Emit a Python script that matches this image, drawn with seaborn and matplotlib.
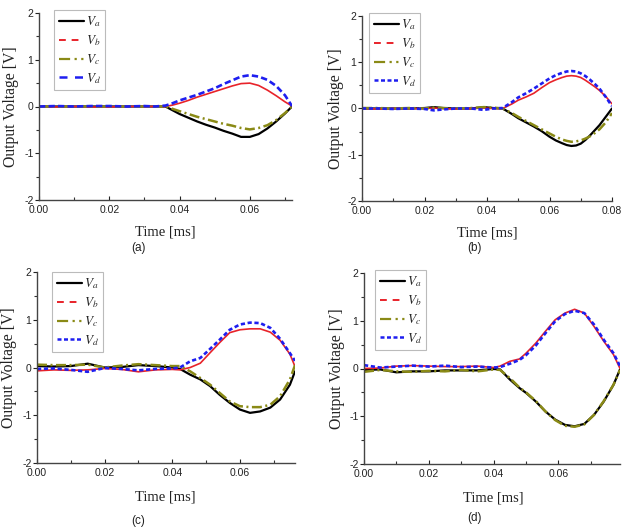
import numpy as np
import pandas as pd
import matplotlib
matplotlib.use("Agg")
import matplotlib.pyplot as plt
from matplotlib.lines import Line2D
from matplotlib.ticker import MultipleLocator, FormatStrFormatter
import seaborn as sns

# ---------------- data ----------------
t_a = [0, 0.005, 0.01, 0.015, 0.02, 0.025, 0.03, 0.033, 0.036, 0.038, 0.04, 0.0425, 0.045, 0.0475, 0.05, 0.0525, 0.055, 0.0575, 0.06, 0.0625, 0.065, 0.0675, 0.07, 0.072]
va_a = [0, 0, 0, 0, 0, 0, 0, 0, 0, -0.08, -0.16, -0.24, -0.32, -0.39, -0.45, -0.52, -0.58, -0.65, -0.65, -0.59, -0.47, -0.32, -0.15, 0.0]
vb_a = [0, -0.01, 0, -0.01, -0.01, 0, 0, 0, 0.0, 0.03, 0.07, 0.13, 0.2, 0.26, 0.32, 0.38, 0.44, 0.49, 0.5, 0.45, 0.35, 0.23, 0.1, 0.01]
vc_a = [0, 0, 0, 0, 0, 0, 0, 0, 0, -0.05, -0.1, -0.16, -0.22, -0.27, -0.32, -0.37, -0.41, -0.46, -0.49, -0.46, -0.4, -0.29, -0.14, 0.0]
vd_a = [0, 0.01, 0.0, 0.01, 0.01, 0, 0.01, 0.0, 0.02, 0.07, 0.13, 0.19, 0.25, 0.32, 0.39, 0.48, 0.56, 0.64, 0.67, 0.64, 0.57, 0.44, 0.24, 0.01]

t_b = [0, 0.005, 0.01, 0.015, 0.02, 0.023, 0.026, 0.03, 0.035, 0.039, 0.042, 0.045, 0.048, 0.05, 0.0525, 0.055, 0.0575, 0.06, 0.062, 0.064, 0.0655, 0.067, 0.0685, 0.07, 0.0715, 0.073, 0.0745, 0.076, 0.078, 0.08]
va_b = [0, 0, 0, 0, 0.01, 0.03, 0.01, 0, 0, 0.03, 0.01, 0, -0.12, -0.21, -0.3, -0.39, -0.49, -0.61, -0.69, -0.75, -0.79, -0.81, -0.8, -0.76, -0.68, -0.58, -0.47, -0.36, -0.18, 0.0]
vb_b = [0, -0.01, 0, 0, 0, 0.01, 0, -0.01, 0, 0.01, 0, 0, 0.1, 0.18, 0.25, 0.33, 0.45, 0.56, 0.62, 0.67, 0.7, 0.71, 0.7, 0.67, 0.61, 0.54, 0.47, 0.39, 0.26, 0.1]
vc_b = [0.01, 0.01, 0, 0.01, 0, 0.02, 0.01, 0, 0.01, 0.03, 0.02, 0, -0.1, -0.18, -0.27, -0.36, -0.45, -0.54, -0.61, -0.67, -0.7, -0.72, -0.71, -0.69, -0.65, -0.6, -0.53, -0.45, -0.3, -0.1]
vd_b = [0, 0, -0.01, 0, -0.01, -0.04, -0.02, 0, 0, -0.03, 0, 0.01, 0.14, 0.24, 0.33, 0.43, 0.54, 0.65, 0.72, 0.77, 0.8, 0.81, 0.8, 0.76, 0.7, 0.62, 0.53, 0.43, 0.25, 0.05]

t_c = [0, 0.005, 0.01, 0.015, 0.02, 0.025, 0.03, 0.035, 0.04, 0.0423, 0.0453, 0.0483, 0.0512, 0.054, 0.057, 0.060, 0.063, 0.066, 0.069, 0.0719, 0.0748, 0.0763]
va_c = [0.03, 0.02, 0.03, 0.08, 0.0, 0.01, 0.05, 0.03, 0.0, -0.03, -0.15, -0.25, -0.39, -0.57, -0.74, -0.88, -0.95, -0.92, -0.84, -0.67, -0.36, -0.08]
vb_c = [-0.07, -0.05, -0.06, -0.05, -0.02, -0.04, -0.09, -0.05, -0.04, -0.05, 0.0, 0.09, 0.31, 0.52, 0.73, 0.79, 0.81, 0.81, 0.74, 0.57, 0.28, 0.02]
vc_c = [0.06, 0.05, 0.05, 0.06, 0.0, 0.04, 0.07, 0.05, 0.03, 0.03, -0.08, -0.22, -0.36, -0.53, -0.71, -0.81, -0.83, -0.83, -0.78, -0.6, -0.25, 0.05]
vd_c = [-0.03, -0.02, -0.05, -0.09, -0.01, -0.03, -0.06, -0.03, -0.02, 0.0, 0.13, 0.2, 0.39, 0.58, 0.79, 0.9, 0.94, 0.93, 0.83, 0.6, 0.3, 0.14]

t_d = [0, 0.005, 0.01, 0.015, 0.02, 0.025, 0.03, 0.035, 0.04, 0.042, 0.045, 0.048, 0.05, 0.053, 0.056, 0.059, 0.062, 0.065, 0.068, 0.071, 0.074, 0.077, 0.079]
va_d = [-0.03, -0.02, -0.08, -0.06, -0.06, -0.04, -0.04, -0.04, -0.01, -0.02, -0.23, -0.41, -0.51, -0.69, -0.9, -1.07, -1.18, -1.21, -1.16, -0.97, -0.69, -0.34, -0.02]
vb_d = [0.0, 0.01, 0.05, 0.06, 0.05, 0.04, 0.04, 0.05, 0.02, 0.05, 0.15, 0.2, 0.32, 0.53, 0.78, 1.02, 1.16, 1.24, 1.16, 0.88, 0.57, 0.29, 0.0]
vc_d = [-0.07, -0.03, -0.06, -0.07, -0.05, -0.06, -0.03, -0.06, -0.02, -0.03, -0.2, -0.4, -0.5, -0.68, -0.9, -1.08, -1.2, -1.22, -1.17, -0.97, -0.68, -0.34, -0.03]
vd_d = [0.07, 0.02, 0.04, 0.06, 0.04, 0.06, 0.03, 0.04, 0.02, 0.03, 0.1, 0.18, 0.28, 0.48, 0.74, 0.99, 1.14, 1.21, 1.16, 0.92, 0.6, 0.32, 0.05]

x_max = [0.072, 0.08, 0.0763, 0.0790]
y_ticks = [-2, -1, 0, 1, 2]
panel_labels = ["(a)", "(b)", "(c)", "(d)"]
series_names = ["Va", "Vb", "Vc", "Vd"]
legend_labels = [r"$V_a$", r"$V_b$", r"$V_c$", r"$V_d$"]

panels = [
    (t_a, [va_a, vb_a, vc_a, vd_a]),
    (t_b, [va_b, vb_b, vc_b, vd_b]),
    (t_c, [va_c, vb_c, vc_c, vd_c]),
    (t_d, [va_d, vb_d, vc_d, vd_d]),
]

# ---------------- styling ----------------
sns.set_style("ticks")
plt.rcParams["font.family"] = ["Liberation Sans", "DejaVu Sans"]
plt.rcParams["mathtext.fontset"] = "stix"

W, H = 625, 531
fig = plt.figure(figsize=(W / 100, H / 100), dpi=100)

# axes boxes in pixels: left, right, top, bottom
boxes = [(39, 292, 13, 200), (362, 612, 16, 201), (37, 295, 272, 463), (364, 620, 273, 464)]
legend_pos = [(54, 10), (369, 13), (52, 272), (375, 270)]
xlabel_pos = [(165, 232), (487, 233), (165, 497), (493, 498)]
ylabel_x = [11, 336, 9, 337]
plabel_pos = [(138, 248), (474, 248), (138, 521), (474, 518)]

colors = {"Va": "#000000", "Vb": "#e8232a", "Vc": "#8a8a16", "Vd": "#1e1ef0"}
blue_dash = [(0, (2.4, 1.2)), (0, (1.6, 1.0)), (0, (1.6, 1.0)), (0, (1.6, 1.0))]
serif = ["Liberation Serif", "DejaVu Serif"]

def fx(x):
    return x / W

def fy(y):
    return 1 - y / H

for i, (t, vals) in enumerate(panels):
    l, r, tp, b = boxes[i]
    ax = fig.add_axes([fx(l), fy(b), (r - l) / W, (b - tp) / H])
    df = pd.DataFrame({"t": t})
    for name, v in zip(series_names, vals):
        df[name] = v
    long = df.melt(id_vars="t", var_name="series", value_name="v")

    styles = {
        "Va": dict(lw=1.6, ls="-"),
        "Vb": dict(lw=1.2, ls="-"),
        "Vc": dict(lw=1.8, ls=(0, (4.0, 1.4, 0.8, 1.4))),
        "Vd": dict(lw=1.9, ls=blue_dash[i]),
    }
    for name in series_names:
        sub = long[long["series"] == name]
        sns.lineplot(data=sub, x="t", y="v", ax=ax, color=colors[name],
                     linewidth=styles[name]["lw"], linestyle=styles[name]["ls"],
                     sort=False, estimator=None)

    ax.set_xlim(0, x_max[i])
    ax.set_ylim(-2, 2)
    ax.set_xticks([0, 0.02, 0.04, 0.06] + ([0.08] if x_max[i] >= 0.0799 else []))
    ax.xaxis.set_major_formatter(FormatStrFormatter("%.2f"))
    ax.xaxis.set_minor_locator(MultipleLocator(0.01))
    ax.set_yticks(y_ticks)
    ax.set_yticklabels([str(v) for v in y_ticks])
    ax.yaxis.set_minor_locator(MultipleLocator(0.5))
    for s in ["top", "right"]:
        ax.spines[s].set_visible(False)
    for s in ["left", "bottom"]:
        ax.spines[s].set_color("#444444")
        ax.spines[s].set_linewidth(1.0)
    ax.tick_params(axis="x", which="major", direction="in", length=3, width=0.8,
                   labelsize=7.5, pad=3.5, colors="#222222")
    ax.tick_params(axis="x", which="minor", direction="in", length=2, width=0.8, colors="#333333")
    ax.tick_params(axis="y", which="major", direction="out", length=3, width=0.8,
                   labelsize=7.5, pad=1, colors="#222222")
    ax.tick_params(axis="y", which="minor", direction="out", length=2, width=0.8, colors="#333333")
    ax.set_xlabel("")
    ax.set_ylabel("")

    # legend with custom handles
    handles = [
        Line2D([], [], color=colors["Va"], lw=1.6, ls="-"),
        Line2D([], [], color=colors["Vb"], lw=1.4, ls=(0, (3.5, 3.0))),
        Line2D([], [], color=colors["Vc"], lw=1.6, ls=(0, (5.0, 2.0, 1.0, 2.0, 1.0, 2.0))),
        Line2D([], [], color=colors["Vd"], lw=1.8, ls=blue_dash[i] if i > 0 else (0, (3.2, 3.0))),
    ]
    lx, ly = legend_pos[i]
    leg = ax.legend(handles, legend_labels, loc="upper left",
                    bbox_to_anchor=((lx - l) / (r - l), (b - ly) / (b - tp)),
                    borderaxespad=0, frameon=True, fancybox=False,
                    fontsize=9.5, handlelength=1.9, handletextpad=0.15,
                    labelspacing=0.3, borderpad=0.35)
    leg.get_frame().set_edgecolor("#aaaaaa")
    leg.get_frame().set_linewidth(0.8)

    xx, xy = xlabel_pos[i]
    fig.text(fx(xx), fy(xy), "Time [ms]", ha="center", va="center",
             family=serif, fontsize=10.5, color="#222222")
    fig.text(fx(ylabel_x[i]), fy((tp + b) / 2), "Output Voltage [V]", ha="center", va="center",
             rotation=90, family=serif, fontsize=11.3, color="#222222")
    px_, py_ = plabel_pos[i]
    fig.text(fx(px_), fy(py_), panel_labels[i], ha="center", va="center",
             fontsize=8.5, color="#222222")

fig.savefig("out.png", dpi=100)
